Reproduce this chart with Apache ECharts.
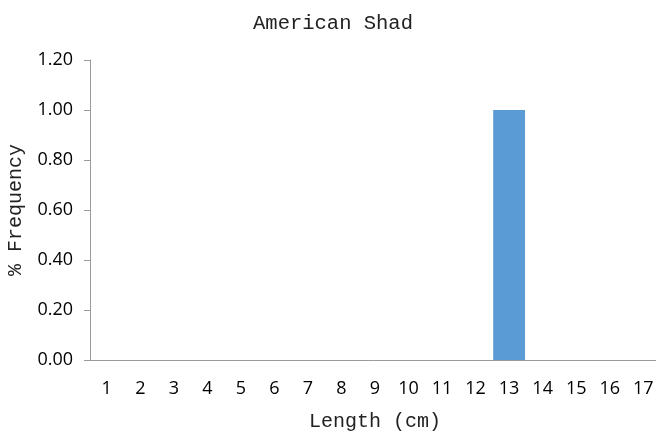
<!DOCTYPE html>
<html lang="en">
<head>
    <meta charset="UTF-8">
    <title>American Shad</title>
    <script src="https://cdn.jsdelivr.net/npm/echarts@6/dist/echarts.min.js"></script>
    <style>
        html, body { margin: 0; padding: 0; background: #fff; }
        #chart { width: 656px; height: 433px; }
    </style>
</head>
<body>
    <div id="chart"></div>
    <script>
        var lengths = ['1', '2', '3', '4', '5', '6', '7', '8', '9', '10', '11', '12', '13', '14', '15', '16', '17'];
        var frequency = [0, 0, 0, 0, 0, 0, 0, 0, 0, 0, 0, 0, 1.0, 0, 0, 0, 0];

        var chart = echarts.init(document.getElementById('chart'));

        var option = {
            animation: false,
            title: {
                text: 'American Shad',
                left: 328,
                textAlign: 'center',
                top: 8,
                textStyle: { fontFamily: 'Liberation Mono', fontSize: 20.5, fontWeight: 'normal', color: '#222' }
            },
            grid: { left: 90, top: 60, width: 570, height: 300, containLabel: false, outerBoundsMode: 'none' },
            xAxis: {
                type: 'category',
                data: lengths,
                name: 'Length (cm)',
                nameLocation: 'middle',
                nameGap: 52,
                nameTextStyle: { fontFamily: 'Liberation Mono', fontSize: 20, color: '#222' },
                axisLine: { lineStyle: { color: '#9a9a9a', width: 1 } },
                axisTick: { show: false },
                axisLabel: { fontFamily: 'Open Sans', fontSize: 18, color: '#000', margin: 20 }
            },
            yAxis: {
                type: 'value',
                min: 0,
                max: 1.2,
                interval: 0.2,
                name: '% Frequency',
                nameLocation: 'middle',
                nameGap: 64,
                nameTextStyle: { fontFamily: 'Liberation Mono', fontSize: 20, color: '#222' },
                axisLine: { show: true, lineStyle: { color: '#9a9a9a', width: 1 } },
                axisTick: { show: true, length: 6, lineStyle: { color: '#9a9a9a' } },
                splitLine: { show: false },
                axisLabel: {
                    fontFamily: 'Open Sans', fontSize: 18, color: '#000', margin: 17,
                    formatter: function (v) { return v.toFixed(2); }
                }
            },
            series: [{
                type: 'bar',
                data: frequency,
                barCategoryGap: '5%',
                itemStyle: { color: '#5B9BD5' }
            }]
        };

        chart.setOption(option);
    </script>
</body>
</html>
